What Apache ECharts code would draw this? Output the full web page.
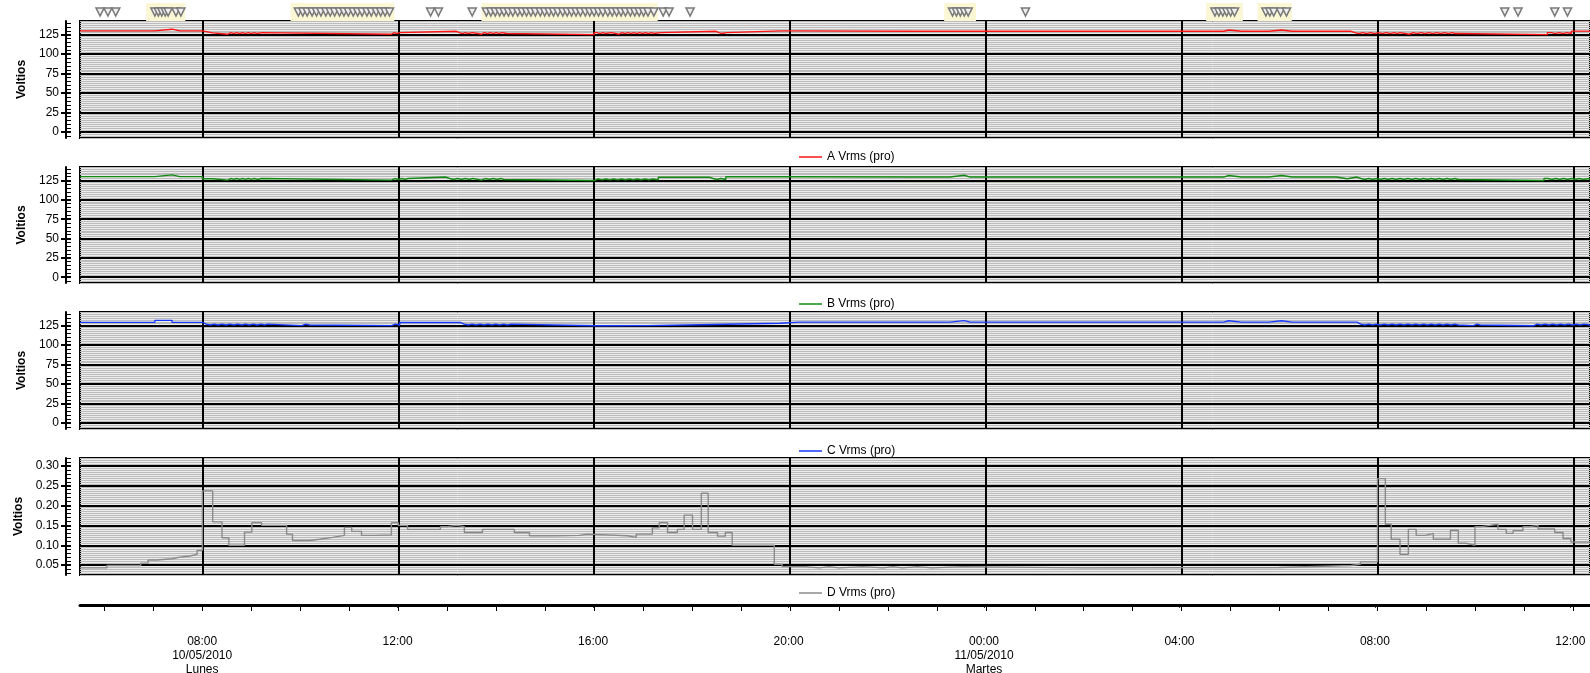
<!DOCTYPE html>
<html><head><meta charset="utf-8">
<script src="https://cdn.jsdelivr.net/npm/echarts@6/dist/echarts.min.js"></script>
<style>html,body{margin:0;padding:0;background:#fff}#c{width:1590px;height:673px}</style>
</head><body><div id="c"></div>
<script>
// ---- DATA (time in hours from 10/05/2010 00:00) ----
const seriesNames = ['A Vrms (pro)', 'B Vrms (pro)', 'C Vrms (pro)', 'D Vrms (pro)'];

const seriesA = [
[5.50,129.8],[5.70,131.5],[5.72,129.8],[5.91,131.5],[5.93,129.8],
[7.03,132.0],[7.38,129.8],[7.54,131.5],[7.56,129.8],
[8.00,127.3],[8.21,125.5],
[8.52,127.6],[8.58,126.4],[8.64,127.6],[8.70,126.4],[8.76,127.6],[8.82,126.4],[8.88,127.6],[8.94,126.4],[9.00,127.6],[9.06,126.4],[9.12,127.6],[9.21,125.5],
[11.86,127.6],[11.92,126.4],[11.97,127.6],[12.03,129.3],
[13.19,127.6],[13.25,126.4],[13.31,127.6],[13.37,126.4],[13.43,127.6],[13.52,125.5],
[13.70,127.6],[13.76,126.4],[13.82,127.6],[13.88,126.4],[13.94,127.6],[14.00,126.4],[14.06,127.6],[14.12,126.4],[14.21,125.0],
[16.00,127.6],[16.06,126.4],[16.12,127.6],[16.18,126.4],[16.24,127.6],[16.35,125.5],
[16.51,127.6],[16.57,126.4],[16.63,127.6],[16.69,126.4],[16.75,127.6],[16.81,126.4],[16.87,127.6],[16.93,126.4],[16.99,127.6],[17.05,126.4],[17.11,127.6],[17.17,126.4],[17.23,127.6],[17.35,129.3],
[18.49,127.6],[18.55,126.4],[18.61,127.6],[18.71,129.8],
[19.81,131.5],[19.83,129.8],[20.18,131.5],[20.20,129.3],
[22.49,131.0],[22.51,129.3],[22.67,131.0],[22.69,129.3],[23.31,131.0],[23.33,129.3],[23.49,131.0],[23.51,129.3],[23.68,131.0],[23.70,129.3],
[24.16,131.0],[24.18,129.3],[24.35,131.0],[24.37,129.3],[24.51,131.0],[24.53,129.3],
[25.79,131.0],[25.81,129.3],[25.98,131.0],[26.00,129.3],[26.16,131.0],[26.18,129.3],
[26.63,131.0],[26.65,129.3],[26.81,131.0],[26.83,129.3],[27.00,131.0],[27.02,129.3],[27.63,131.0],[27.65,129.3],
[28.24,131.0],[28.26,129.3],[28.43,131.0],[28.45,129.3],[28.61,131.0],[28.63,129.3],
[28.86,131.0],[28.96,129.3],[29.22,131.0],[29.24,129.3],[29.55,131.0],[29.57,129.3],[29.78,131.0],[30.04,129.3],[30.26,131.0],[30.28,129.3],[30.48,131.0],[30.50,129.3],
[31.46,127.6],[31.54,126.4],[31.62,127.6],[31.70,126.4],[31.78,127.6],[31.86,126.4],[31.94,127.6],[32.02,126.4],[32.10,127.6],[32.18,126.4],[32.26,127.6],[32.34,126.4],[32.40,127.6],[32.46,125.5],
[32.65,127.6],[32.73,126.4],[32.81,127.6],[32.89,126.4],[32.97,127.6],[33.05,126.4],[33.13,127.6],[33.21,126.4],[33.29,127.6],[33.37,126.4],[33.45,127.6],[33.53,126.4],[33.59,127.6],[33.63,125.0],
[35.47,127.6],[35.55,126.4],[35.63,127.6],[35.71,126.4],[35.79,127.6],[35.87,126.4],[35.96,129.5],[36.34,129.5]
];

const seriesB = [
[5.50,130.0],[5.70,131.5],[5.72,130.0],[5.91,131.5],[5.93,130.0],
[7.03,132.3],[7.38,130.0],[7.54,131.5],[7.56,130.0],
[8.00,127.3],[8.21,125.5],
[8.52,127.6],[8.58,126.4],[8.64,127.6],[8.70,126.4],[8.76,127.6],[8.82,126.4],[8.88,127.6],[8.94,126.4],[9.00,127.6],[9.06,126.4],[9.12,127.6],[9.21,125.5],
[11.86,127.6],[11.93,126.4],[12.00,127.6],[12.07,126.4],[12.14,127.6],[12.20,129.5],
[12.97,127.6],[13.05,126.4],[13.13,127.6],[13.21,126.4],[13.29,127.6],[13.37,126.4],[13.45,127.6],[13.52,125.5],
[13.70,127.6],[13.78,126.4],[13.86,127.6],[13.94,126.4],[14.02,127.6],[14.10,126.4],[14.15,125.0],
[16.00,127.0],[16.08,125.9],[16.16,127.0],[16.24,125.9],[16.32,127.0],[16.40,125.9],[16.48,127.0],[16.56,125.9],[16.64,127.0],[16.72,125.9],[16.80,127.0],[16.88,125.9],[16.96,127.0],[17.04,125.9],[17.12,127.0],[17.20,125.9],[17.31,129.3],
[18.35,127.6],[18.43,126.4],[18.51,127.6],[18.59,126.4],[18.69,129.8],
[19.81,131.5],[19.83,129.8],[20.18,131.5],[20.20,129.5],
[22.49,131.2],[22.51,129.5],[22.67,131.2],[22.69,129.5],[23.27,131.8],[23.56,129.5],[23.68,131.2],[23.70,129.5],
[24.16,131.2],[24.18,129.5],[24.35,131.2],[24.37,129.5],[24.51,131.2],[24.53,129.5],
[25.79,131.2],[25.81,129.5],[25.98,131.2],[26.00,129.5],[26.16,131.2],[26.18,129.5],
[26.63,131.2],[26.65,129.5],[26.81,131.2],[26.83,129.5],[27.00,131.2],[27.02,129.5],[27.63,131.2],[27.65,129.5],
[28.24,131.2],[28.26,129.5],[28.43,131.2],[28.45,129.5],[28.61,131.2],[28.63,129.5],
[28.86,131.5],[28.96,129.5],[29.22,131.2],[29.24,129.5],[29.78,131.5],[30.04,129.5],[30.26,131.2],[30.28,129.5],
[31.16,127.3],[31.38,129.5],
[31.58,127.6],[31.66,126.4],[31.74,127.6],[31.82,126.4],[31.90,127.6],[31.98,126.4],[32.06,127.6],[32.14,126.4],[32.22,127.6],[32.30,126.4],[32.38,127.6],[32.46,126.4],[32.54,127.6],[32.62,126.4],[32.70,127.6],[32.78,126.4],[32.86,127.6],[32.94,126.4],[33.02,127.6],[33.10,126.4],[33.18,127.6],[33.26,126.4],[33.34,127.6],[33.42,126.4],[33.50,127.6],[33.58,126.4],[33.65,125.0],
[35.40,127.6],[35.48,126.4],[35.56,127.6],[35.64,126.4],[35.72,127.6],[35.80,126.4],[35.88,127.6],[35.96,126.4],[36.04,127.6],[36.12,126.4],[36.20,127.6],[36.34,126.4]
];

const seriesC = [
[5.50,129.2],[5.70,131.0],[5.72,129.2],[5.91,131.0],[5.93,129.2],
[7.03,131.8],[7.38,129.2],[7.54,131.0],[7.56,129.2],
[8.00,127.0],[8.08,125.9],[8.16,127.0],[8.24,125.9],[8.32,127.0],[8.40,125.9],[8.48,127.0],[8.56,125.9],[8.64,127.0],[8.72,125.9],[8.80,127.0],[8.88,125.9],[8.96,127.0],[9.04,125.9],[9.12,127.0],[9.20,125.9],[9.28,127.0],[9.33,125.0],
[10.03,127.0],[10.11,125.9],[10.19,125.0],
[11.86,127.0],[11.94,125.9],[12.03,129.0],
[13.27,127.0],[13.35,125.9],[13.43,127.0],[13.51,125.9],[13.59,127.0],[13.67,125.9],[13.75,127.0],[13.83,125.9],[13.91,127.0],[13.99,125.9],[14.07,127.0],[14.15,125.9],[14.23,127.0],[14.31,124.8],
[16.00,125.0],[17.10,126.5],[18.45,128.0],[19.80,129.5],
[20.18,131.0],[20.20,129.5],
[22.49,131.0],[22.51,129.5],[22.67,131.0],[22.69,129.5],[23.27,131.5],[23.56,129.5],[23.68,131.0],[23.70,129.5],
[24.16,131.0],[24.18,129.5],[24.35,131.0],[24.37,129.5],[24.51,131.0],[24.53,129.5],
[25.79,131.0],[25.81,129.5],[25.98,131.0],[26.00,129.5],[26.16,131.0],[26.18,129.5],
[26.63,131.0],[26.65,129.5],[26.81,131.0],[26.83,129.5],[27.00,131.0],[27.02,129.5],[27.63,131.0],[27.65,129.5],
[28.24,131.0],[28.26,129.5],[28.43,131.0],[28.45,129.5],[28.61,131.0],[28.63,129.5],
[28.86,131.3],[28.96,129.5],[29.22,131.0],[29.24,129.5],[29.78,131.3],[30.04,129.5],[30.26,131.0],[30.28,129.5],
[31.58,127.0],[31.66,125.9],[31.74,127.0],[31.82,125.9],[31.90,127.0],[31.98,125.9],[32.06,127.0],[32.14,125.9],[32.22,127.0],[32.30,125.9],[32.38,127.0],[32.46,125.9],[32.54,127.0],[32.62,125.9],[32.70,127.0],[32.78,125.9],[32.86,127.0],[32.94,125.9],[33.02,127.0],[33.10,125.9],[33.18,127.0],[33.26,125.9],[33.34,127.0],[33.42,125.9],[33.50,127.0],[33.58,125.9],[33.65,125.0],
[33.96,127.0],[34.03,125.9],[34.10,124.8],
[35.18,127.0],[35.26,125.9],[35.34,127.0],[35.42,125.9],[35.50,127.0],[35.58,125.9],[35.66,127.0],[35.74,125.9],[35.82,127.0],[35.90,125.9],[35.98,127.0],[36.06,125.9],[36.14,127.0],[36.22,125.9],[36.34,125.9]
];

const seriesD = [
[5.50,0.043],[6.05,0.049],[6.74,0.055],[6.89,0.063],[7.07,0.066],[7.38,0.070],[7.54,0.073],[7.74,0.077],[7.89,0.087],
[8.00,0.237],[8.21,0.159],[8.40,0.119],[8.54,0.100],[8.86,0.133],[9.01,0.157],[9.21,0.150],[9.72,0.128],[9.84,0.112],
[10.19,0.115],[10.39,0.120],[10.66,0.125],[10.90,0.145],[11.05,0.135],[11.25,0.125],[11.52,0.126],[11.86,0.157],
[12.00,0.150],[12.19,0.140],[12.86,0.147],[13.00,0.150],[13.19,0.147],[13.35,0.132],[13.72,0.140],[14.37,0.132],
[14.68,0.124],[15.23,0.125],[15.70,0.128],[15.86,0.124],[16.68,0.120],[16.86,0.128],[17.19,0.144],[17.33,0.157],
[17.50,0.132],[17.70,0.140],[17.84,0.176],[18.01,0.140],[18.19,0.231],[18.33,0.132],[18.52,0.123],[18.68,0.132],
[18.82,0.100],[19.68,0.052],[19.84,0.046],
[20.30,0.043],[20.60,0.046],[20.80,0.043],[21.00,0.046],[21.50,0.043],[21.90,0.046],[22.10,0.043],[22.30,0.046],
[22.60,0.043],[22.90,0.046],[23.50,0.043],[26.00,0.044],[29.98,0.049],[31.46,0.052],[31.65,0.058],
[32.00,0.268],[32.16,0.153],[32.28,0.115],[32.46,0.077],[32.63,0.140],[32.79,0.125],[32.98,0.130],[33.14,0.115],
[33.49,0.138],[33.65,0.105],[33.81,0.100],[33.99,0.147],[34.12,0.150],[34.30,0.153],[34.46,0.140],[34.63,0.130],
[34.77,0.137],[34.97,0.147],[35.12,0.150],[35.28,0.141],[35.62,0.132],[35.79,0.117],[35.95,0.108],[36.34,0.108]
];

// time ranges where the trace is drawn dark (rapid fluctuation)
const darkRangesA = [[8.00,8.21],[8.52,9.21],[11.86,12.03],[13.19,13.52],[13.70,14.21],[16.00,16.35],[16.51,17.35],[18.49,18.71],[31.46,32.46],[32.65,33.63],[35.47,35.96]];
const darkRangesB = [[8.00,8.21],[8.52,9.21],[11.86,12.20],[12.97,13.52],[13.70,14.15],[16.00,17.31],[18.35,18.69],[31.58,33.65],[35.40,36.40]];
const darkRangesC = [[8.00,9.33],[10.03,10.19],[11.86,12.03],[13.27,14.31],[31.58,33.65],[33.96,34.10],[35.18,36.40]];

const eventTimes = [
5.91, 6.07, 6.23,
7.03, 7.10, 7.17, 7.24, 7.30, 7.46, 7.56,
9.96, 10.05, 10.14, 10.24, 10.33, 10.42, 10.52, 10.61, 10.70, 10.80, 10.89, 10.98, 11.08, 11.17, 11.26, 11.36, 11.45, 11.55, 11.64, 11.73, 11.82,
12.66, 12.82, 13.51,
13.80, 13.89, 13.98, 14.07, 14.16, 14.25, 14.34, 14.44, 14.53, 14.62, 14.71, 14.80, 14.90, 14.99, 15.08, 15.17, 15.26, 15.36, 15.45, 15.54, 15.63, 15.72, 15.82, 15.91, 16.00, 16.09, 16.18, 16.28, 16.37, 16.46, 16.55, 16.64, 16.74, 16.83, 16.92, 17.01, 17.10, 17.22,
17.41, 17.53, 17.96,
23.32, 23.40, 23.48, 23.56, 23.64,
24.81,
28.68, 28.76, 28.84, 28.92, 29.00, 29.08,
29.72, 29.80, 29.88, 30.02, 30.14,
34.60, 34.87, 35.62, 35.88
];
const eventBands = [[6.85, 7.65], [9.80, 11.92], [13.70, 17.30], [23.15, 23.80], [28.50, 29.25], [29.55, 30.25]];

const bottomTickHours = [8, 12, 16, 20, 24, 28, 32, 36];
const bottomTickLabels = ['08:00\n10/05/2010\nLunes', '12:00', '16:00', '20:00', '00:00\n11/05/2010\nMartes', '04:00', '08:00', '12:00'];

const voltTickLabels = [0, 25, 50, 75, 100, 125];
const dTickLabels = ['0.05', '0.10', '0.15', '0.20', '0.25', '0.30'];

// ---- LAYOUT / STYLE ----
const FONT = "'Liberation Sans', Arial, sans-serif";
const X_MIN = 5.5, X_MAX = 36.34;
const T = 'transparent';
const xMajorColors = [T, T, T, T, T, '#000', T, T]; // every 4 h, starting 05:30 with 0.5h step

const voltFmt = v => { const i = voltTickLabels.findIndex(t => Math.abs(t - v) < 1e-6); return i >= 0 ? String(voltTickLabels[i]) : ''; };
const panels = [
  {name: seriesNames[0], data: seriesA, color: '#ff1414', dark: '#6e0a0a', darkRanges: darkRangesA, top: 21, height: 117, min: -7.5, max: 142.5, step: 2.5, majorIdx: 3, legendTop: 146, fmt: voltFmt},
  {name: seriesNames[1], data: seriesB, color: '#128a12', dark: '#0b3a0b', darkRanges: darkRangesB, top: 167, height: 116, min: -7.5, max: 142.5, step: 2.5, majorIdx: 3, legendTop: 293, fmt: voltFmt},
  {name: seriesNames[2], data: seriesC, color: '#1638ff', dark: '#0a1a78', darkRanges: darkRangesC, top: 312, height: 117, min: -7.5, max: 142.5, step: 2.5, majorIdx: 3, legendTop: 440, fmt: voltFmt},
  {name: seriesNames[3], data: seriesD, color: '#8a8a8a', dark: null, darkRanges: [], top: 458, height: 117, min: 0.025, max: 0.32, step: 0.005, majorIdx: 5, legendTop: 582,
   fmt: v => { const i = dTickLabels.findIndex(t => Math.abs(parseFloat(t) - v) < 1e-7); return i >= 0 ? dTickLabels[i] : ''; }}
];

const grid = [], xAxis = [], yAxis = [], series = [], legend = [], visualMap = [];
const off = {show: false};

function hiddenX(gi) { return {type: 'value', gridIndex: gi, show: false, min: 0, max: 1}; }

panels.forEach(p => {
  const majorColors = []; for (let i = 0; i < 10; i++) majorColors.push(i === p.majorIdx ? '#000' : T);
  const minorTickColors = []; for (let i = 0; i < 10; i++) minorTickColors.push(i % 2 === p.majorIdx % 2 ? '#000' : T);
  const gi = grid.length;
  grid.push({left: 80, right: -2, top: p.top, height: p.height, show: true, backgroundColor: '#ececec', borderColor: '#000', borderWidth: 2});
  const xi = xAxis.length;
  xAxis.push({type: 'value', gridIndex: gi, min: X_MIN, max: X_MAX, interval: 0.5, z: 3,
    axisLine: off, axisTick: off, axisLabel: off,
    splitLine: {show: true, lineStyle: {color: xMajorColors, width: 2}}});
  yAxis.push({type: 'value', gridIndex: gi, position: 'right', min: p.min, max: p.max, interval: p.step, z: 1,
    axisLine: off, axisTick: off, axisLabel: off,
    splitLine: {show: true, lineStyle: {color: '#bcbcbc', width: 1}}});
  const yi = yAxis.length;
  yAxis.push({type: 'value', gridIndex: gi, position: 'left', min: p.min, max: p.max, interval: p.step, z: 2,
    axisLine: off, axisTick: off,
    axisLabel: {show: true, formatter: p.fmt, margin: 21, fontSize: 12, color: '#000', fontFamily: FONT},
    name: 'Voltios', nameLocation: 'middle', nameGap: 50,
    nameTextStyle: {fontWeight: 'bold', fontSize: 12, color: '#000', fontFamily: FONT},
    splitLine: {show: true, lineStyle: {color: majorColors, width: 2}}});
  const si = series.length;
  series.push({type: 'line', name: p.name, data: p.data, step: 'end', symbol: 'none', xAxisIndex: xi, yAxisIndex: yi,
    lineStyle: {color: p.color, width: 1.4}, itemStyle: {color: p.color}, z: 5, animation: false});
  if (p.darkRanges.length) {
    visualMap.push({type: 'piecewise', show: false, seriesIndex: si, dimension: 0,
      pieces: p.darkRanges.map(r => ({gte: r[0], lt: r[1], color: p.dark})),
      outOfRange: {color: p.color}});
  }
  legend.push({data: [{name: p.name, itemStyle: {color: p.color}}], left: 794, top: p.legendTop, icon: 'rect',
    itemWidth: 23, itemHeight: 1.5, selectedMode: false,
    textStyle: {fontSize: 12, color: '#000', fontFamily: FONT}});
  const gr1 = grid.length;
  grid.push({left: 66, width: 5, top: p.top, height: p.height});
  xAxis.push(hiddenX(gr1));
  yAxis.push({type: 'value', gridIndex: gr1, position: 'right', min: p.min, max: p.max, interval: p.step,
    axisLine: {show: true, lineStyle: {color: '#000', width: 2}}, axisTick: off, axisLabel: off,
    splitLine: {show: true, lineStyle: {color: minorTickColors, width: 1}}});
  const gr2 = grid.length;
  grid.push({left: 61, width: 10, top: p.top, height: p.height});
  xAxis.push(hiddenX(gr2));
  yAxis.push({type: 'value', gridIndex: gr2, position: 'right', min: p.min, max: p.max, interval: p.step,
    axisLine: off, axisTick: off, axisLabel: off,
    splitLine: {show: true, lineStyle: {color: majorColors, width: 2}}});
});

// event markers grid
const ge = grid.length;
grid.push({left: 80, right: -2, top: 3, height: 18});
const xe = xAxis.length;
xAxis.push({type: 'value', gridIndex: ge, show: false, min: X_MIN, max: X_MAX});
const ye = yAxis.length;
yAxis.push({type: 'value', gridIndex: ge, show: false, min: 0, max: 1});
series.push({type: 'scatter', name: 'events', xAxisIndex: xe, yAxisIndex: ye, animation: false,
  data: eventTimes.map(t => [t, 0.5]), symbol: 'triangle', symbolRotate: 180, symbolSize: [8, 8],
  itemStyle: {color: '#efefef', borderColor: '#7a7a7a', borderWidth: 1.6, opacity: 1}, z: 4,
  markArea: {silent: true, itemStyle: {color: '#fbf6d4'}, data: eventBands.map(b => [{xAxis: b[0]}, {xAxis: b[1]}])}});

// bottom time axis: axis line + hourly ticks
const gb1 = grid.length;
grid.push({left: 80, right: -2, top: 605, height: 6});
xAxis.push({type: 'value', gridIndex: gb1, position: 'top', min: X_MIN, max: X_MAX, interval: 0.5,
  axisLine: {show: true, onZero: false, lineStyle: {color: '#000', width: 3}}, axisTick: off, axisLabel: off,
  splitLine: {show: true, lineStyle: {color: [T, '#000'], width: 1}}});
yAxis.push({type: 'value', gridIndex: gb1, show: false, min: 0, max: 1});
// bottom time axis: 4-hour ticks + labels
const gb2 = grid.length;
grid.push({left: 80, right: -2, top: 605, height: 11});
xAxis.push({type: 'value', gridIndex: gb2, position: 'bottom', min: X_MIN, max: X_MAX, interval: 0.5,
  axisLine: {show: false, onZero: false}, axisTick: off,
  axisLabel: {show: true, margin: 27, fontSize: 12, lineHeight: 14, color: '#000', fontFamily: FONT,
    formatter: v => { const i = bottomTickHours.findIndex(h => Math.abs(h - v) < 1e-6); return i >= 0 ? bottomTickLabels[i] : ''; }},
  splitLine: {show: true, lineStyle: {color: xMajorColors, width: 1}}});
yAxis.push({type: 'value', gridIndex: gb2, show: false, min: 0, max: 1});

const chart = echarts.init(document.getElementById('c'), null, {renderer: 'canvas'});
chart.setOption({animation: false, backgroundColor: '#fff', textStyle: {fontFamily: FONT},
  grid, xAxis, yAxis, series, legend, visualMap});
</script></body></html>
